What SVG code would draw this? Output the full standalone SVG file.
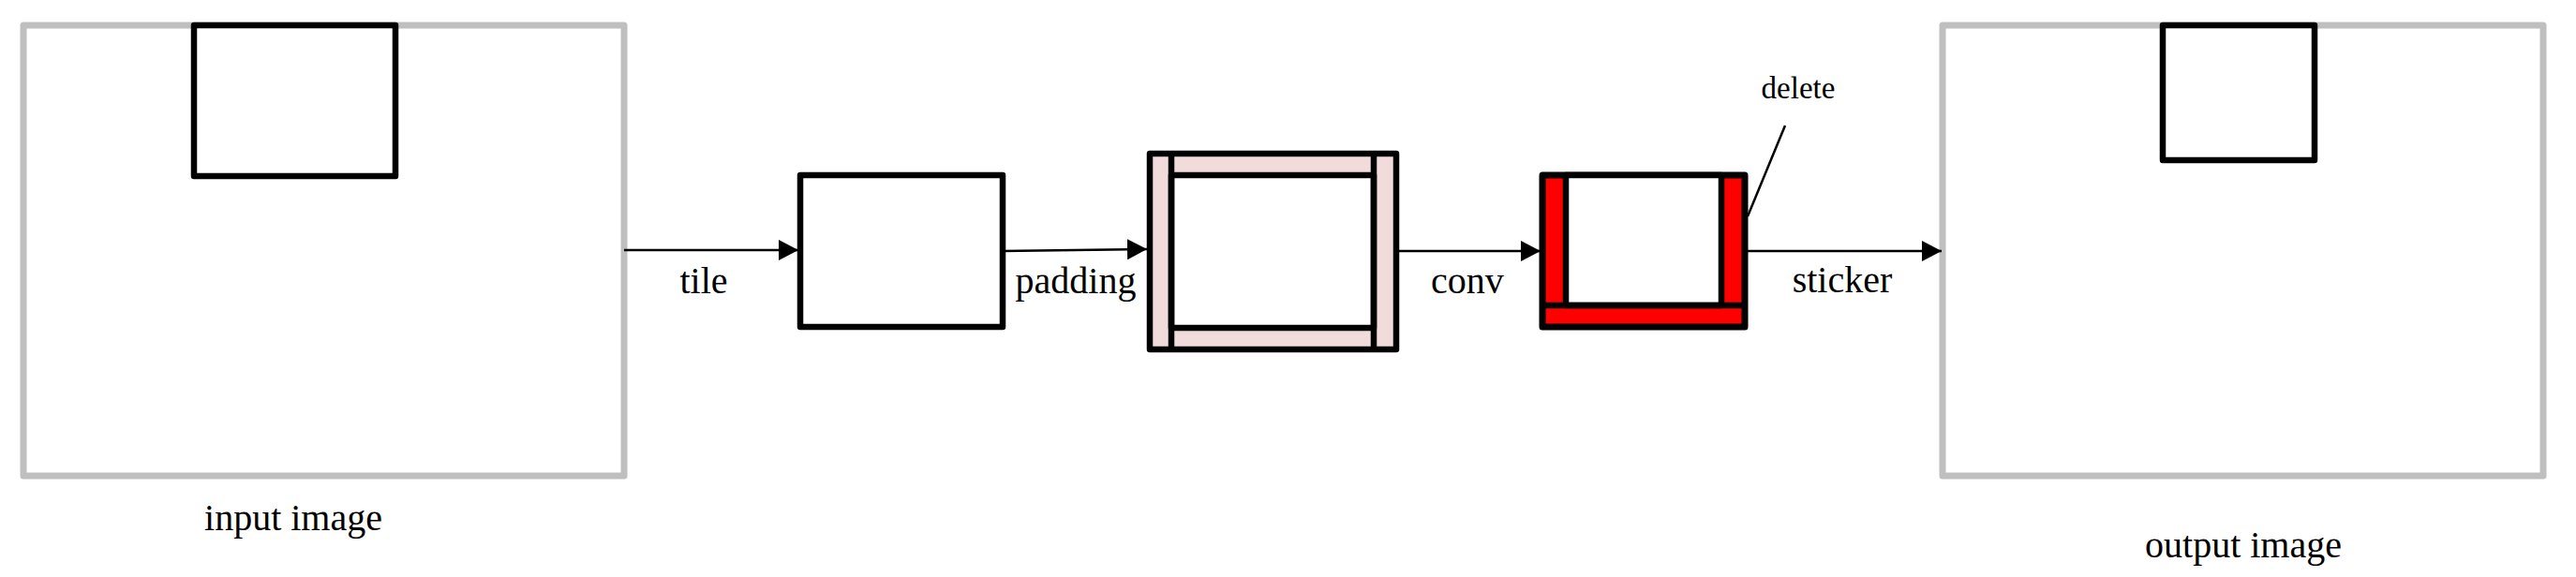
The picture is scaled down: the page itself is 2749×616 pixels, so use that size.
<svg xmlns="http://www.w3.org/2000/svg" width="2749" height="616" viewBox="0 0 2749 616">
<style>
.img{fill:#fff;stroke:#BFBFBF;stroke-width:7;stroke-linejoin:round}
.blk{fill:#fff;stroke:#000;stroke-width:6.5;stroke-linejoin:round}
.pad{fill:#F2DCDB;stroke:#000;stroke-width:6.5;stroke-linejoin:round}
.red{fill:#FF0000;stroke:#000;stroke-width:7;stroke-linejoin:round}
.ln{stroke:#000;stroke-width:6.5}
.conn{stroke:#000;stroke-width:2.5;fill:none}
.lbl{font-family:"Liberation Serif","Times New Roman",serif;font-size:40px;fill:#000}
.sm{font-size:33px}
</style>
<defs>
<marker id="ah" markerUnits="userSpaceOnUse" markerWidth="22" markerHeight="22" refX="21" refY="11" orient="auto">
<path d="M0,0 L21,11 L0,22 Z" fill="#000"/>
</marker>
</defs>
<g id="input-image">
<rect class="img" x="25" y="27" width="641" height="481"/>
<rect class="blk" x="207" y="27" width="215" height="161"/>
<text class="lbl" x="313" y="566" text-anchor="middle">input image</text>
</g>
<g id="tile-box">
<rect class="blk" x="854" y="187" width="216" height="162"/>
</g>
<g id="padding-box">
<rect class="pad" x="1227" y="164" width="263" height="209"/>
<rect class="blk" x="1250" y="187" width="216" height="163"/>
<line class="ln" x1="1250" y1="164" x2="1250" y2="373"/>
<line class="ln" x1="1466" y1="164" x2="1466" y2="373"/>
</g>
<g id="conv-box">
<rect class="red" x="1646" y="187" width="216" height="162"/>
<rect class="blk" x="1671" y="187" width="166" height="139"/>
<line class="ln" x1="1646" y1="326" x2="1862" y2="326"/>
</g>
<g id="output-image">
<rect class="img" x="2073" y="27" width="641" height="481"/>
<rect class="blk" x="2308" y="27" width="162" height="144"/>
<text class="lbl" x="2394" y="595" text-anchor="middle">output image</text>
</g>
<g id="connectors">
<line class="conn" x1="666" y1="267" x2="852" y2="267" marker-end="url(#ah)"/>
<line class="conn" x1="1070" y1="268" x2="1224" y2="266" marker-end="url(#ah)"/>
<line class="conn" x1="1490" y1="268" x2="1644" y2="268" marker-end="url(#ah)"/>
<line class="conn" x1="1862" y1="268" x2="2072" y2="268" marker-end="url(#ah)"/>
<line class="conn" x1="1905" y1="134" x2="1865" y2="231"/>
</g>
<g id="labels">
<text class="lbl" x="751" y="313" text-anchor="middle">tile</text>
<text class="lbl" x="1148" y="313" text-anchor="middle">padding</text>
<text class="lbl" x="1566" y="313" text-anchor="middle">conv</text>
<text class="lbl" x="1966" y="312" text-anchor="middle">sticker</text>
<text class="lbl sm" x="1919" y="105" text-anchor="middle">delete</text>
</g>
</svg>
